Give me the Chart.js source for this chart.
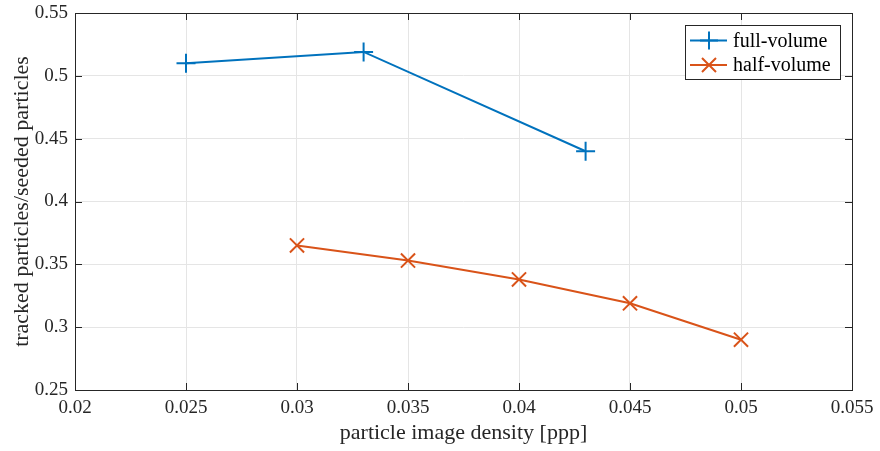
<!DOCTYPE html>
<html>
<head>
<meta charset="utf-8">
<script src="https://cdn.jsdelivr.net/npm/chart.js@4.4.1/dist/chart.umd.min.js"></script>
<style>
  html, body { margin: 0; padding: 0; background: #fff; }
  #wrap { width: 880px; height: 451px; }
</style>
</head>
<body>
<div id="wrap"><canvas id="c" width="880" height="451"></canvas></div>
<script>
// Particle image density [ppp] and tracking ratio per configuration
const fullDensity = [0.025, 0.033, 0.043];
const fullRatio   = [0.510, 0.519, 0.440];
const halfDensity = [0.030, 0.035, 0.040, 0.045, 0.050];
const halfRatio   = [0.365, 0.353, 0.338, 0.319, 0.290];
const seriesNames = ['full-volume', 'half-volume'];
const xTicks = [0.02, 0.025, 0.03, 0.035, 0.04, 0.045, 0.05, 0.055];
const yTicks = [0.25, 0.3, 0.35, 0.4, 0.45, 0.5, 0.55];

const BLUE = '#0072BD';
const ORANGE = '#D95319';
const AXIS = '#262626';
const FONT = '"Liberation Serif", "Times New Roman", serif';

const toPoints = (xs, ys) => xs.map((x, i) => ({ x, y: ys[i] }));
const fmt = v => String(parseFloat(Number(v).toFixed(4)));

// Axes box with inward tick marks on all four sides
const boxPlugin = {
  id: 'box',
  afterDatasetsDraw(chart) {
    const { ctx, chartArea: a, scales } = chart;
    const len = 7;
    ctx.save();
    ctx.strokeStyle = AXIS;
    ctx.lineWidth = 1;
    ctx.beginPath();
    xTicks.forEach(t => {
      const px = Math.round(scales.x.getPixelForValue(t)) + 0.5;
      ctx.moveTo(px, a.bottom); ctx.lineTo(px, a.bottom - len);
      ctx.moveTo(px, a.top); ctx.lineTo(px, a.top + len);
    });
    yTicks.forEach(t => {
      const py = Math.round(scales.y.getPixelForValue(t)) + 0.5;
      ctx.moveTo(a.left, py); ctx.lineTo(a.left + len, py);
      ctx.moveTo(a.right, py); ctx.lineTo(a.right - len, py);
    });
    ctx.stroke();
    ctx.strokeRect(Math.round(a.left) + 0.5, Math.round(a.top) + 0.5,
                   Math.round(a.right - a.left), Math.round(a.bottom - a.top));
    ctx.restore();
  }
};

// Legend with line + marker samples inside a framed box
const legendPlugin = {
  id: 'boxLegend',
  afterDraw(chart) {
    const { ctx } = chart;
    const x0 = 685, y0 = 25, w = 155, h = 54;
    ctx.save();
    ctx.fillStyle = '#fff';
    ctx.fillRect(x0, y0, w, h);
    ctx.strokeStyle = AXIS;
    ctx.lineWidth = 1;
    ctx.strokeRect(x0 + 0.5, y0 + 0.5, w, h);
    chart.data.datasets.forEach((ds, i) => {
      const cy = y0 + 15.5 + i * 24.5;
      ctx.strokeStyle = ds.borderColor;
      ctx.lineWidth = 2;
      ctx.beginPath();
      ctx.moveTo(x0 + 5, cy); ctx.lineTo(x0 + 42, cy);
      ctx.stroke();
      const cx = x0 + 24;
      ctx.beginPath();
      if (ds.pointStyle === 'cross') {
        ctx.moveTo(cx - 9, cy); ctx.lineTo(cx + 9, cy);
        ctx.moveTo(cx, cy - 9); ctx.lineTo(cx, cy + 9);
      } else {
        ctx.moveTo(cx - 7, cy - 7); ctx.lineTo(cx + 7, cy + 7);
        ctx.moveTo(cx - 7, cy + 7); ctx.lineTo(cx + 7, cy - 7);
      }
      ctx.stroke();
      ctx.fillStyle = '#000';
      ctx.font = '20px ' + FONT;
      ctx.textBaseline = 'middle';
      ctx.fillText(ds.label, x0 + 48, cy + 1);
    });
    ctx.restore();
  }
};

new Chart(document.getElementById('c'), {
  type: 'line',
  data: {
    datasets: [
      {
        label: seriesNames[0],
        data: toPoints(fullDensity, fullRatio),
        borderColor: BLUE, backgroundColor: BLUE,
        borderWidth: 2, pointStyle: 'cross', pointRadius: 9.5,
        pointBorderWidth: 2, pointHoverRadius: 9.5, tension: 0
      },
      {
        label: seriesNames[1],
        data: toPoints(halfDensity, halfRatio),
        borderColor: ORANGE, backgroundColor: ORANGE,
        borderWidth: 2, pointStyle: 'crossRot', pointRadius: 10,
        pointBorderWidth: 2, pointHoverRadius: 10, tension: 0
      }
    ]
  },
  options: {
    responsive: false,
    animation: false,
    devicePixelRatio: 1,
    layout: { padding: { left: 0, right: 28, top: 13, bottom: 0 } },
    plugins: { legend: { display: false }, tooltip: { enabled: false } },
    scales: {
      x: {
        type: 'linear', min: 0.02, max: 0.055,
        afterBuildTicks: s => { s.ticks = xTicks.map(v => ({ value: v })); },
        afterFit: s => { s.height = 61; s.paddingLeft = 0; s.paddingRight = 0; },
        grid: { color: '#e5e5e5', drawTicks: false },
        border: { display: false },
        ticks: { callback: fmt, color: AXIS, font: { family: FONT, size: 19 }, padding: 7, maxRotation: 0 },
        title: { display: true, text: 'particle image density [ppp]', color: AXIS,
                 font: { family: FONT, size: 22 }, padding: { top: 0, bottom: 5 } }
      },
      y: {
        type: 'linear', min: 0.25, max: 0.55,
        afterBuildTicks: s => { s.ticks = yTicks.map(v => ({ value: v })); },
        afterFit: s => { s.width = 75; s.paddingTop = 0; s.paddingBottom = 0; },
        grid: { color: '#e5e5e5', drawTicks: false },
        border: { display: false },
        ticks: { callback: fmt, color: AXIS, font: { family: FONT, size: 19 }, padding: 7 },
        title: { display: true, text: 'tracked particles/seeded particles', color: AXIS,
                 font: { family: FONT, size: 22 }, padding: { top: 9, bottom: 0 } }
      }
    }
  },
  plugins: [boxPlugin, legendPlugin]
});
</script>
</body>
</html>
